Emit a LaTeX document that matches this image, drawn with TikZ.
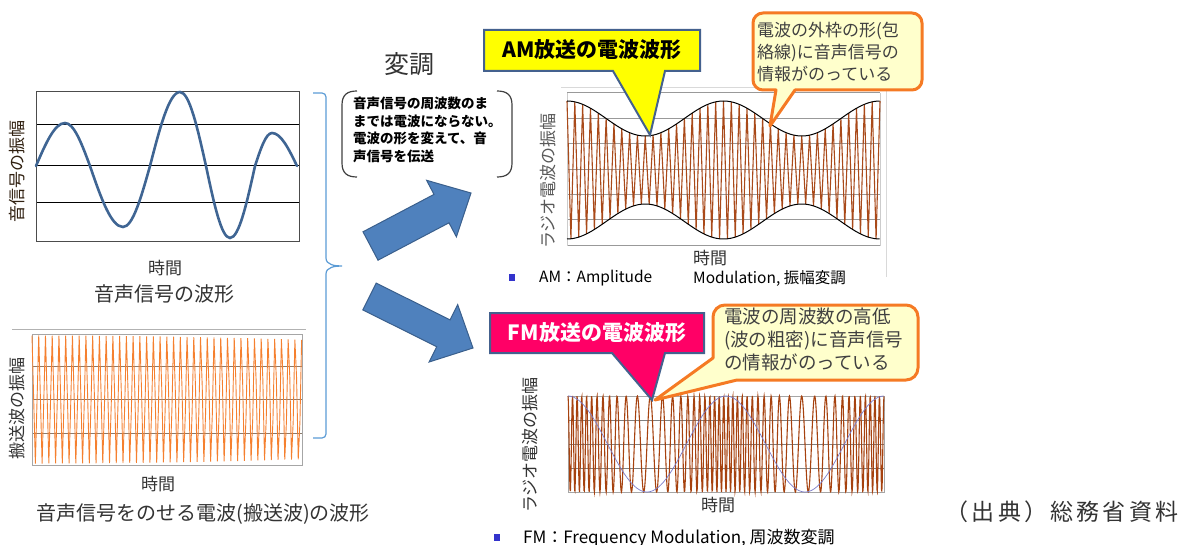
\documentclass[tikz,border=0pt]{standalone}
\usepackage{fontspec}
\setmainfont{Noto Sans CJK JP}
\usetikzlibrary{calc}
\definecolor{wave1}{HTML}{3F6593}
\definecolor{carrier}{HTML}{F5802F}
\definecolor{amwave}{HTML}{A94A1A}
\definecolor{fmwave}{HTML}{A6420F}
\definecolor{arrowfill}{HTML}{4F81BD}
\definecolor{arrowdraw}{HTML}{3A5F8C}
\definecolor{bracecol}{HTML}{5B9BD5}
\definecolor{calloutborder}{HTML}{44618E}
\definecolor{amyellow}{HTML}{FFFF00}
\definecolor{fmpink}{HTML}{FF0066}
\definecolor{notefill}{HTML}{FFFFCC}
\definecolor{noteborder}{HTML}{F57A24}
\definecolor{legendsq}{HTML}{3333CC}
\definecolor{fmsignal}{HTML}{7B7BC8}
\definecolor{txt}{HTML}{333333}
\definecolor{brgrid}{HTML}{8C7A6B}
\tikzset{
  lbl/.style={inner sep=0pt, text=txt, font=\fontsize{17}{20}\selectfont},
  caption/.style={inner sep=0pt, text=txt, font=\fontsize{20}{24}\selectfont},
  blockarrow/.style={fill=arrowfill, draw=arrowdraw, line width=1pt, line join=miter},
  callout/.style={draw=calloutborder, line width=2pt, line join=miter},
  note/.style={draw=noteborder, fill=notefill, line width=3pt, line join=round},
  notetext/.style={inner sep=0pt, text=black!75, align=left},
  legend/.style={inner sep=0pt, anchor=west, text=black, font=\fontsize{15.5}{18}\selectfont},
}
\begin{document}
\begin{tikzpicture}[x=1pt,y=-1pt]
\useasboundingbox (0,0) rectangle (1191,545);

% ---------- panel 1: audio signal ----------
\foreach \yy in {125,166,203} \draw[black, line width=1pt] (36,\yy) -- (300,\yy);
\draw[black!70, line width=1pt] (36,92) rectangle (299,242);
\draw[wave1, line width=2.6pt, line cap=round]
  (36,166) sin (65,123) cos (90,166) sin (123,227) cos (150,166) sin (180,92)
  cos (206,166) sin (230,238) cos (255,166) sin (272,133) cos (297,166);
\node[lbl, rotate=90, text=black!75!brown] (ylab1) at (17,172) {音信号の振幅};
\node[lbl] (time1) at (165,268) {時間};
\node[caption] (cap1) at (164,294) {音声信号の波形};

% ---------- panel 2: carrier ----------
\draw[black!30, line width=1pt] (12,329) -- (306,329);
\foreach \yy in {366,399,433} \draw[brgrid, line width=1pt] (32,\yy) -- (302,\yy);
\draw[black!35, line width=1pt] (32,334) rectangle (302,465);
\draw[carrier, line width=0.9pt] plot[domain=0:1, samples=161]
  ({32+270*\x}, {399.5-64*cos(360*mod(40*\x,1))});
\node[lbl, rotate=90] (ylab2) at (17,408) {搬送波の振幅};
\node[lbl] (time2) at (158,484) {時間};
\node[caption] (cap2) at (203,514) {音声信号をのせる電波(搬送波)の波形};

% ---------- brace ----------
\draw[bracecol, line width=1.2pt] (313,93) -- (322,93) to[out=0,in=90] (326,97)
  -- (326,258) to[out=-90,in=180] (342,266) to[out=180,in=90] (326,274)
  -- (326,434) to[out=-90,in=0] (322,438) -- (313,438);

% ---------- modulation note ----------
\node[inner sep=0pt, text=txt, font=\fontsize{25}{28}\selectfont] (mod) at (409,64) {変調};
\draw[black!75, line width=1.2pt] (357,91) .. controls (347,91) and (342,95) .. (342,105)
  -- (342,163) .. controls (342,173) and (347,177) .. (357,177);
\draw[black!75, line width=1.2pt] (497,91) .. controls (507,91) and (512,95) .. (512,105)
  -- (512,163) .. controls (512,173) and (507,177) .. (497,177);
\node[inner sep=0pt, anchor=north west, align=left, text=black,
  font=\fontsize{13.5}{17.5}\selectfont\bfseries] (note0) at (353,97)
  {音声信号の周波数のま\\までは電波にならない。\\電波の形を変えて、音\\声信号を伝送};

% ---------- block arrows ----------
\draw[blockarrow] (378.0,260.2) -- (363.0,231.8) -- (434.0,194.4) -- (426.6,180.3)
  -- (471,193) -- (456.4,236.9) -- (449.0,222.8) -- cycle;
\draw[blockarrow] (362.8,309.9) -- (376.2,283.1) -- (450.1,319.9) -- (457.7,304.7)
  -- (473,348) -- (429.1,362.0) -- (436.7,346.7) -- cycle;

% ---------- AM plot ----------
\draw[black!15, line width=1pt] (561,88) -- (886,88) -- (886,277);
\foreach \yy in {93,119,144,170,195,220,246} \draw[black!40, line width=1pt] (567,\yy) -- (880,\yy);
\draw[black!20, line width=1pt] (567,93) -- (567,246) (880,93) -- (880,246);
\draw[amwave, line width=1.1pt] plot[domain=0:160, samples=161]
  ({567+1.95625*\x}, {170-(51.5+17.5*cos(4.5*\x))*cos(90*\x)});
\draw[black, line width=1pt] plot[domain=0:1, samples=120, smooth]
  ({567+313*\x}, {170-(51.5+17.5*cos(720*\x))});
\draw[black, line width=1pt] plot[domain=0:1, samples=120, smooth]
  ({567+313*\x}, {170+(51.5+17.5*cos(720*\x))});
\node[lbl, rotate=90, text=black!65] (ylab3) at (548,181) {ラジオ電波の振幅};
\node[lbl] (time3) at (710,258) {時間};
\fill[legendsq] (509,274) rectangle (515,281);
\node[legend] (leg1) at (539,278) {AM：Amplitude};
\node[legend] (leg2) at (693,278) {Modulation, 振幅変調};

% ---------- FM plot ----------
\foreach \yy in {420,444,468} \draw[black!50, line width=1pt] (568,\yy) -- (884,\yy);
\draw[black!35, line width=1pt] (568,396) rectangle (884,492);
\draw[fmwave, line width=1.1pt] plot[domain=0:1, samples=900]
  ({568+316*\x}, {444-48*cos(360*mod(47*\x+1.83*sin(720*\x),1))});
\draw[fmsignal, line width=0.7pt] plot[domain=0:1, samples=120, smooth]
  ({568+316*\x}, {444-48*cos(720*\x)});
\node[lbl, rotate=90] (ylab4) at (530,445) {ラジオ電波の振幅};
\node[lbl] (time4) at (718,505) {時間};
\fill[legendsq] (494,534) rectangle (500,541);
\node[legend, font=\fontsize{17}{20}\selectfont] (leg3) at (523,538) {FM：Frequency Modulation, 周波数変調};

% ---------- AM callouts ----------
\draw[callout, fill=amyellow] (484,30) -- (700,30) -- (700,71) -- (665,71) -- (650,135)
  -- (613,71) -- (484,71) -- cycle;
\node[inner sep=0pt, font=\fontsize{21}{24}\selectfont\bfseries] (amtitle) at (592,50) {AM放送の電波波形};
\draw[note] (763,13) -- (912,13) .. controls (917.5,13) and (922,17.5) .. (922,23)
  -- (922,80) .. controls (922,85.5) and (917.5,90) .. (912,90) -- (795,90) -- (770,126)
  -- (776,90) -- (763,90) .. controls (757.5,90) and (753,85.5) .. (753,80)
  -- (753,23) .. controls (753,17.5) and (757.5,13) .. (763,13) -- cycle;
\node[notetext, anchor=north west, font=\fontsize{17}{22}\selectfont] (amnote) at (757,22)
  {電波の外枠の形(包\\絡線)に音声信号の\\情報がのっている};

% ---------- FM callouts ----------
\draw[callout, fill=fmpink] (490,313) -- (704,313) -- (704,353) -- (665,353) -- (652,400)
  -- (612,353) -- (490,353) -- cycle;
\node[inner sep=0pt, text=white, font=\fontsize{21}{24}\selectfont\bfseries] (fmtitle) at (597,333) {FM放送の電波波形};
\draw[note] (725,305) -- (906,305) .. controls (912.6,305) and (918,310.4) .. (918,317)
  -- (918,368) .. controls (918,374.6) and (912.6,380) .. (906,380) -- (737,380) -- (655,400)
  -- (713,358) -- (713,317) .. controls (713,310.4) and (718.4,305) .. (725,305) -- cycle;
\node[notetext, anchor=north west, font=\fontsize{18.5}{23}\selectfont] (fmnote) at (724,308)
  {電波の周波数の高低\\(波の粗密)に音声信号\\の情報がのっている};

% ---------- source ----------
\node[inner sep=0pt, text=txt, font=\fontsize{23}{26}\selectfont\addfontfeatures{LetterSpace=14}] (src) at (1062,512) {（出典）総務省資料};
\end{tikzpicture}
\end{document}
